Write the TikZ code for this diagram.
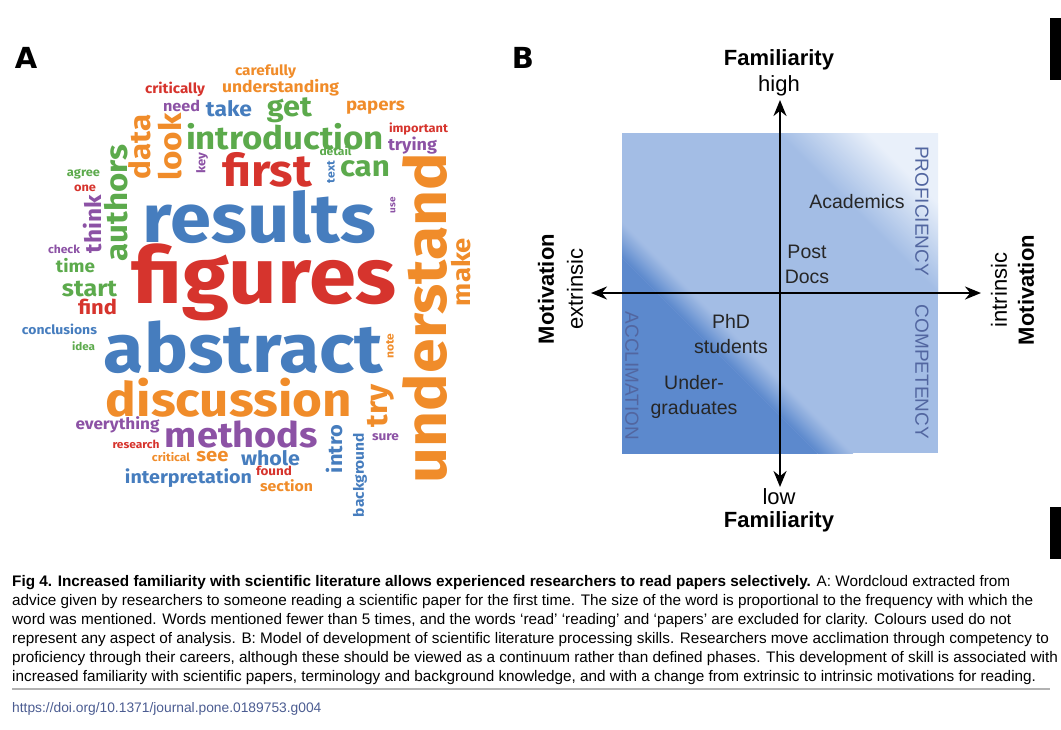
\documentclass[tikz,border=0pt]{standalone}
\usepackage{fontspec}
\usepackage{graphicx}
\setmainfont{Liberation Sans}
\newfontfamily\cloudfont{Fira Sans}[FakeStretch=1.08]
\newfontfamily\panelfont{DejaVu Sans}
\usetikzlibrary{arrows.meta}
\definecolor{cblue}{RGB}{70,125,190}
\definecolor{cred}{RGB}{214,52,45}
\definecolor{corange}{RGB}{240,140,42}
\definecolor{cgreen}{RGB}{92,170,76}
\definecolor{cpurple}{RGB}{140,82,165}
\definecolor{bdark}{RGB}{92,137,205}
\definecolor{bmid}{RGB}{163,189,229}
\definecolor{blight}{RGB}{233,240,250}
\definecolor{phasecol}{RGB}{82,102,160}
\definecolor{doicol}{RGB}{75,92,145}
\newcommand{\cw}[2]{\resizebox{#1pt}{!}{\cloudfont\bfseries #2}}

\begin{document}
\begin{tikzpicture}[x=1pt, y=-1pt, line join=round, >={Stealth[length=16pt,width=13pt]},
  cloud/.style={inner sep=0pt},
  axlab/.style={font=\fontsize{22}{24}\selectfont, inner sep=0pt},
  axlabb/.style={font=\fontsize{22}{24}\selectfont\bfseries, inner sep=0pt},
  grp/.style={font=\fontsize{19.5}{25}\selectfont, align=center, inner sep=0pt, text=black!85},
  phase/.style={font=\fontsize{19}{20}\selectfont, text=phasecol, rotate=-90, inner sep=0pt},
  capline/.style={anchor=base west, inner sep=0pt, font=\fontsize{15.3}{19}\selectfont}]
\useasboundingbox (0,0) rectangle (1061,729);

\node[font=\panelfont\bfseries\fontsize{29}{30}\selectfont, inner sep=0pt] (lbla) at (26,58) {A};
\node[font=\panelfont\bfseries\fontsize{29}{30}\selectfont, inner sep=0pt] (lblb) at (523,58) {B};

% word cloud
\foreach \wx/\wy/\wlen/\wcol/\wrot/\wtxt in {
  265.5/72/61/corange/0/carefully, 280.5/88/117/corange/0/understanding,
  175/89/60/cred/0/critically, 181.5/106/37/cpurple/0/need,
  229/109/46/cblue/0/take, 289.5/110/45/cgreen/0/get,
  375.5/108/59/corange/0/papers, 285/137/198/cgreen/0/introduction,
  418.5/129/59/cred/0/important, 412.5/146/49/cpurple/0/trying,
  267/170/90/cred/0/first, 335.5/151/32/cgreen/0/detail,
  365/169/50/cgreen/0/can, 83.5/174/33/cgreen/0/agree,
  85/188/22/cred/0/one, 259.5/217/233/cblue/0/results,
  264.5/282/265/cred/0/figures, 243.5/347/279/cblue/0/abstract,
  229/398/246/corange/0/discussion, 117.5/425/84/cpurple/0/everything,
  241.5/434/153/cpurple/0/methods, 136/444/47/cred/0/research,
  171/457/38/corange/0/critical, 212.5/457/32/corange/0/see,
  270.5/458/59/cblue/0/whole, 188.5/478/127/cblue/0/interpretation,
  274/471/36/cred/0/found, 286.5/486/53/corange/0/section,
  385.5/437/27/cpurple/0/sure, 64/249/32/cpurple/0/check,
  75.5/266/39/cgreen/0/time, 89.5/289/55/cgreen/0/start,
  97.5/307/39/cred/0/find, 59.5/329/75/cblue/0/conclusions,
  83.5/346/23/cgreen/0/idea,
  140/147/65/corange/90/data, 170/147/67/corange/90/look,
  202/163/21/cpurple/90/key, 116/203/117/cgreen/90/authors,
  93/224/58/cpurple/90/think, 331/172/22/cblue/90/text,
  393/205/16/cpurple/90/use, 425/318/330/corange/90/understand,
  461/272/68/corange/90/make, 390/346/25/corange/90/note,
  381/406/43/corange/90/try, 334/449/48/cblue/90/intro,
  360/475/84/cblue/90/background}
  \node[cloud, text=\wcol, rotate=\wrot] (w-\wtxt) at (\wx,\wy) {\cw{\wlen}{\wtxt}};

% model square
\begin{scope}
\clip (622,133) rectangle (938,453);
\fill[bmid] (622,133) rectangle (938,453);
\fill[bdark] (600,441) -- (960,801) -- (960,596) -- (600,236) -- cycle;
\foreach \i [evaluate=\i as \p using 100-\i*100/35] in {0,...,34}
  \fill[bdark!\p!bmid] (600,431-195-\i) -- (960,791-195-\i) -- (960,791-196.5-\i) -- (600,431-196.5-\i) -- cycle;
\foreach \i [evaluate=\i as \p using \i*100/90] in {0,...,89}
  \fill[blight!\p!bmid] (600,431-475-\i) -- (960,791-475-\i) -- (960,791-476.5-\i) -- (600,431-476.5-\i) -- cycle;
\fill[blight] (600,-134) -- (960,226) -- (960,91) -- (600,-269) -- cycle;
\end{scope}

\coordinate (ext) at (591,293);
\coordinate (int) at (981,293);
\coordinate (hi) at (780,100);
\coordinate (lo) at (780,487);
\draw[<->, line width=2.2pt] (ext) -- (int);
\draw[<->, line width=2.2pt] (lo) -- (hi);

\node[axlabb] (famhi) at (779,60) {Familiarity};
\node[axlab] (high) at (779,86) {high};
\node[axlab] (low) at (779,497) {low};
\node[axlabb] (famlo) at (779,522) {Familiarity};
\node[axlabb, rotate=90] (motl) at (546,289) {Motivation};
\node[axlab, rotate=90] (extr) at (575,289) {extrinsic};
\node[axlab, rotate=90] (intr) at (999,290) {intrinsic};
\node[axlabb, rotate=90] (motr) at (1026,290) {Motivation};

\node[grp] (acad) at (857,202) {Academics};
\node[grp] (post) at (807,264) {Post\\Docs};
\node[grp] (phd) at (731,334) {PhD\\students};
\node[grp] (under) at (694,397) {Under-\\graduates};

\node[phase] (prof) at (922,211) {PROFICIENCY};
\node[phase] (comp) at (922,372) {COMPETENCY};
\node[phase] (accl) at (632,376) {ACCLIMATION};

\fill (1050,18) rectangle (1061,80);
\fill (1050,507) rectangle (1061,559);

% caption
\node[capline] (cap1) at (12,586) {\textbf{Fig 4. Increased familiarity with scientific literature allows experienced researchers to read papers selectively.} A: Wordcloud extracted from};
\node[capline] (cap2) at (12,605) {advice given by researchers to someone reading a scientific paper for the first time. The size of the word is proportional to the frequency with which the};
\node[capline] (cap3) at (12,624) {word was mentioned. Words mentioned fewer than 5 times, and the words ‘read’ ‘reading’ and ‘papers’ are excluded for clarity. Colours used do not};
\node[capline] (cap4) at (12,643) {represent any aspect of analysis. B: Model of development of scientific literature processing skills. Researchers move acclimation through competency to};
\node[capline] (cap5) at (12,662) {proficiency through their careers, although these should be viewed as a continuum rather than defined phases. This development of skill is associated with};
\node[capline] (cap6) at (12,681) {increased familiarity with scientific papers, terminology and background knowledge, and with a change from extrinsic to intrinsic motivations for reading.};
\draw[black!30, line width=2pt] (12,689) -- (1050,689);
\node[anchor=base west, inner sep=0pt, text=doicol, font=\fontsize{13.8}{15}\selectfont] (doi) at (12,712) {https://doi.org/10.1371/journal.pone.0189753.g004};
\end{tikzpicture}
\end{document}
